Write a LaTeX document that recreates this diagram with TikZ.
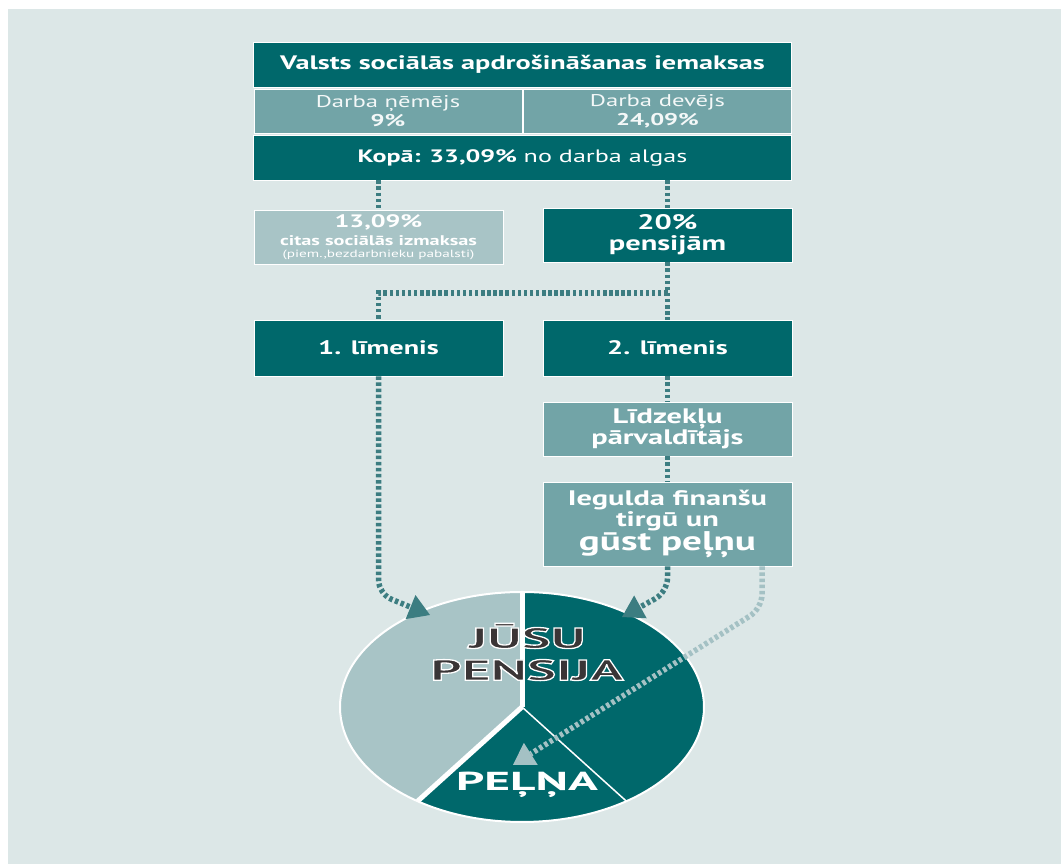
\documentclass[tikz,border=0pt]{standalone}
\usepackage{fontspec}
\setmainfont{PT Sans}[FakeStretch=1.45]
\newfontfamily\capsfont{PT Sans}[FakeStretch=1.9]
\usetikzlibrary{arrows.meta, positioning, calc}
\definecolor{tealdark}{HTML}{00686B}
\definecolor{tealmid}{HTML}{72A4A7}
\definecolor{teallight}{HTML}{A8C4C6}
\definecolor{panelbg}{HTML}{DCE7E7}
\definecolor{flowcol}{HTML}{3C7D81}
\definecolor{flowlight}{HTML}{A4C1C4}
\definecolor{inktext}{HTML}{3A3536}
% white outline round dark letters
\newcommand{\outlined}[1]{\special{pdf:literal direct 1 1 1 RG 1.3 w 2 Tr}#1\special{pdf:literal direct 0 Tr}}

\begin{document}
\begin{tikzpicture}[
    x=1pt, y=1pt,
    font=\fontsize{17}{19}\selectfont,
    box/.style={draw=white, line width=0.8pt, text=white, align=center, inner sep=0pt, minimum width=249pt, minimum height=54pt, font=\fontsize{21}{21}\selectfont\bfseries},
    darkbox/.style={box, fill=tealdark},
    midbox/.style={box, fill=tealmid},
    lightbox/.style={box, fill=teallight},
    flow/.style={draw=flowcol, line width=5.5pt, dash pattern=on 3.5pt off 2.6pt, rounded corners=14pt},
    flowhead/.style={-{Triangle[length=21pt, width=26pt, line width=0pt]}},
    lightflow/.style={flow, draw=flowlight},
    bigword/.style={inner sep=0pt, align=center, font=\capsfont\fontsize{29}{32}\selectfont\bfseries, text=inktext}
]

% === BACKGROUND ===
\useasboundingbox (0,0) rectangle (1061,864);
\fill[panelbg] (8,0) rectangle (1061,855);

% === CONTRIBUTIONS TABLE ===
\node[darkbox, minimum width=538pt, minimum height=45pt, font=\fontsize{19.5}{20}\selectfont\bfseries] (title) at (522.5,799.5) {Valsts sociālās apdrošināšanas iemaksas};
\node[midbox, minimum width=268pt, minimum height=44pt, font=\fontsize{17}{19}\selectfont, text=white!92!tealmid] (worker) at (388,753) {Darba ņēmējs\\\textbf{9\%}};
\node[midbox, minimum width=268pt, minimum height=44pt, font=\fontsize{17}{19}\selectfont, text=white!92!tealmid] (employer) at (657.5,753) {Darba devējs\\\textbf{24,09\%}};
\node[darkbox, minimum width=538pt, minimum height=45pt, font=\fontsize{18}{20}\selectfont\bfseries] (total) at (522.5,706.5) {Kopā: 33,09\% {\mdseries no darba algas}};

% === SPLIT ===
\node[lightbox, font=\fontsize{18}{16}\selectfont\bfseries] (other) at (378.5,627) {13,09\%\\[2pt]{\fontsize{14}{13}\selectfont citas sociālās izmaksas}\\[-4pt]{\fontsize{10.5}{10}\selectfont\mdseries (piem.,bezdarbnieku pabalsti)}};
\node[darkbox] (pens) at (667.5,629) {20\%\\pensijām};

% === LEVELS ===
\node[darkbox, minimum height=56pt, font=\fontsize{19.5}{20}\selectfont\bfseries] (lvl1) at (378.5,516) {1. līmenis};
\node[darkbox, minimum height=56pt, font=\fontsize{19.5}{20}\selectfont\bfseries] (lvl2) at (667.5,516) {2. līmenis};
\node[midbox] (manager) at (667.5,435) {Līdzekļu\\pārvaldītājs};
\node[midbox, minimum height=84pt, font=\fontsize{21}{19}\selectfont\bfseries] (invest) at (667.5,340) {Iegulda finanšu\\tirgū un\\{\fontsize{27}{24}\selectfont gūst peļņu}};

% === PIE ===
\coordinate (pc) at (522,157);
\fill[teallight] (pc) -- ++(90:182 and 115) arc[start angle=90, end angle=235, x radius=182pt, y radius=115pt] -- cycle;
\fill[tealdark] (pc) -- ++(235:182 and 115) arc[start angle=235, end angle=450, x radius=182pt, y radius=115pt] -- cycle;
\draw[white, line width=5pt] (pc) -- ++(90:182 and 115);
\draw[white, line width=5pt] (pc) -- ++(235:182 and 115);
\draw[white, line width=1.5pt] (pc) -- ++(305:182 and 115);
\draw[white, line width=2pt] (pc) ellipse[x radius=182pt, y radius=115pt];

\node[bigword] (yours) at (527,212) {\outlined{JŪSU}\\\outlined{PENSIJA}};
\node[inner sep=0pt, font=\capsfont\fontsize{26}{26}\selectfont\bfseries, text=white] (gain) at (527,79) {PEĻŅA};

% === ARROWS ===
\coordinate (fork) at (667.5,571);
\coordinate (tipL) at (430,249);
\coordinate (tipR) at (622,247);
\coordinate (tipG) at (513,99);

\draw[flow] (total.south -| other.north) -- (other.north);
\draw[flow] (total.south -| pens.north) -- (pens.north);
\draw[flow] (pens.south) -- (lvl2.north);
\draw[flow, sharp corners] (fork) -| (lvl1.north);
\draw[flow] (lvl2.south) -- (manager.north);
\draw[flow] (manager.south) -- (invest.north);

\draw[flow, flowhead, color=flowcol] (lvl1.south) -- (378.5,270) -- (tipL);
\draw[flow, flowhead, color=flowcol] (invest.south) -- (667.5,272) -- (tipR);
\draw[lightflow, flowhead, color=flowlight] ([xshift=94.5pt]invest.south) -- ++(0,-42) -- (tipG);

\end{tikzpicture}
\end{document}
